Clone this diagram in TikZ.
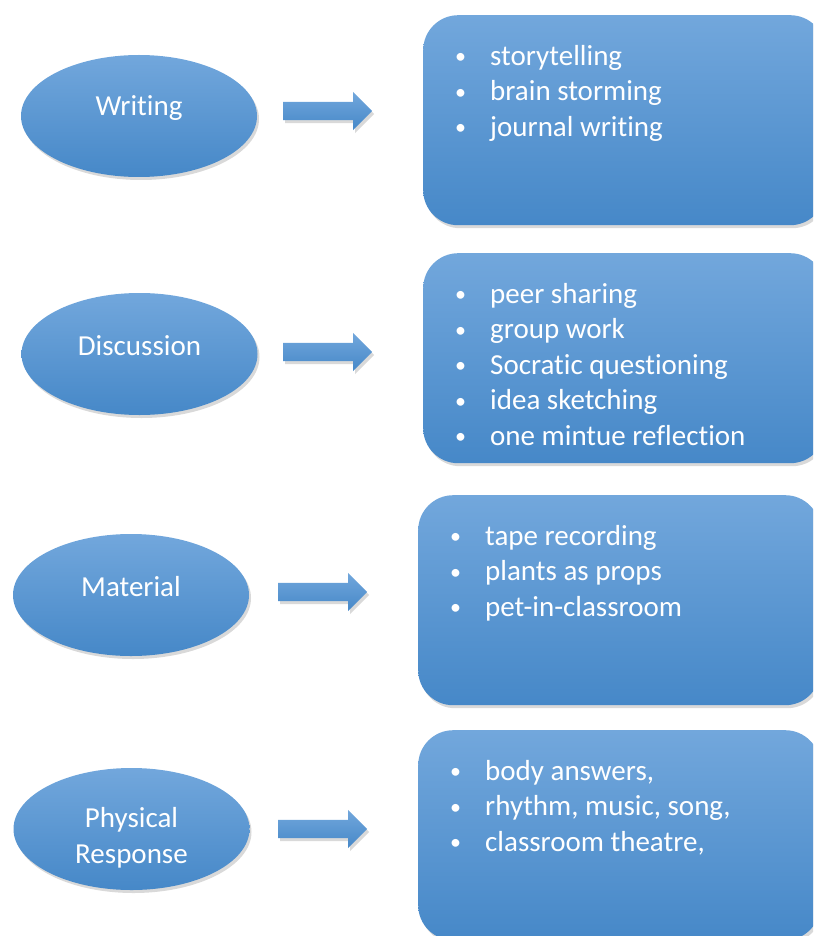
\documentclass[tikz,border=0pt]{standalone}
\usepackage{fontspec}
\setmainfont{Carlito}[Ligatures=CommonOff]
\usetikzlibrary{shapes.geometric,shapes.arrows,shadows}
\definecolor{blueTop}{HTML}{72A7DC}
\definecolor{blueBot}{HTML}{4688C8}
\newcommand{\bul}{\makebox[35pt][l]{\raisebox{1.5pt}{\fontsize{22pt}{22pt}\selectfont\textbullet}}}

\begin{document}
\begin{tikzpicture}[x=1pt,y=-1pt,
			blob/.style={top color=blueTop,bottom color=blueBot,draw=none,
				drop shadow={shadow xshift=2pt,shadow yshift=-3pt,opacity=.3}},
			topic/.style={blob,ellipse,minimum width=236pt,minimum height=122pt,inner sep=0pt},
			topicname/.style={text=white,align=center,yshift=#1},
			topicname/.default=8pt,
			pointer/.style={blob,single arrow,anchor=west,inner xsep=0pt,inner ysep=9pt,
				minimum height=89pt,single arrow head extend=10pt},
			itembox/.style={blob,rectangle,rounded corners=35pt,anchor=north west,
				minimum width=402pt,minimum height=210pt},
			items/.style={text=white,align=left,anchor=north west,inner sep=0pt}]
\fontsize{29pt}{35.5pt}\selectfont
\useasboundingbox (0,0) rectangle (813,936);
\clip (0,0) rectangle (813,936);
%% left column
\node[topic,label={[topicname]center:Writing}] (W) at (139,116) {};
\node[topic,label={[topicname]center:Discussion}] (D) at (139.5,354) {};
\node[topic,label={[topicname]center:Material}] (M) at (131,595) {};
\node[topic,label={[topicname=-9pt]center:Physical\\Response}] (P) at (131.5,829) {};
%% arrows
\node[pointer] (WA) at (283,111) {};
\node[pointer] (DA) at (283,352) {};
\node[pointer] (MA) at (278,592) {};
\node[pointer] (PA) at (278,829) {};
%% right column
\node[itembox] (WB) at (423,15) {};
\node[itembox] (DB) at (423,253) {};
\node[itembox] (MB) at (418,495) {};
\node[itembox] (PB) at (418,730) {};
\node[items] (WL) at ([shift={(32,25)}]WB.north west)
	{\strut\bul storytelling\\\bul brain storming\\\bul journal writing};
\node[items] (DL) at ([shift={(32,25)}]DB.north west)
	{\strut\bul peer sharing\\\bul group work\\\bul Socratic questioning\\\bul idea sketching\\\bul one mintue reflection};
\node[items] (ML) at ([shift={(32,25)}]MB.north west)
	{\strut\bul tape recording\\\bul plants as props\\\bul pet-in-classroom};
\node[items] (PL) at ([shift={(32,25)}]PB.north west)
	{\strut\bul body answers,\\\bul rhythm, music, song,\\\bul classroom theatre,};
\end{tikzpicture}
\end{document}
